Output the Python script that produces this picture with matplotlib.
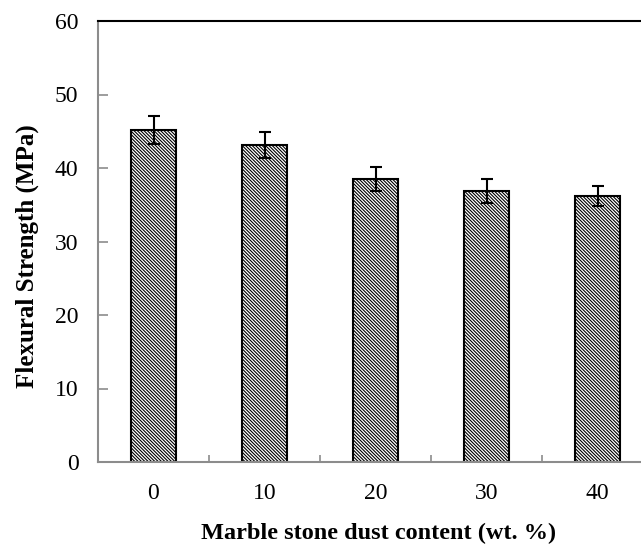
import numpy as np
import matplotlib
matplotlib.use("Agg")
import matplotlib.pyplot as plt

contents = ["0", "10", "20", "30", "40"]
strength = [45.2, 43.1, 38.5, 36.9, 36.2]
errors = [1.9, 1.8, 1.6, 1.6, 1.4]

plt.rcParams['font.family'] = ['Liberation Serif', 'DejaVu Serif']
plt.rcParams['hatch.linewidth'] = 0.8
plt.rcParams['hatch.color'] = '#3a3a3a'

fig = plt.figure(figsize=(6.41, 5.47), dpi=100)
# axes runs past the right edge of the figure like the original
ax = fig.add_axes([98/641, 1-462/547, 555/641, 441/547])

x = np.arange(len(contents))
ax.bar(x, strength, width=0.4, color='white', edgecolor='black', linewidth=1.5,
       hatch='\\' * 10, zorder=2)
ax.errorbar(x, strength, yerr=errors, fmt='none', ecolor='black', elinewidth=1.5,
            capsize=4.5, capthick=1.5, zorder=3)

ax.set_xlim(-0.5, 4.5)
ax.set_ylim(0, 60)
ax.set_yticks(range(0, 61, 10))
ax.set_xticks(x)
ax.set_xticklabels(contents)
ax.set_xticks(x[:-1] + 0.5, minor=True)

ax.spines['left'].set_color('#8c8c8c')
ax.spines['bottom'].set_color('#8c8c8c')
ax.spines['left'].set_linewidth(1.5)
ax.spines['bottom'].set_linewidth(1.5)
ax.spines['top'].set_linewidth(1.5)

ax.tick_params(axis='y', direction='in', length=7, width=1.2, color='#8c8c8c',
               labelsize=17, pad=14)
ax.tick_params(axis='x', which='major', length=0, labelsize=17, pad=15)
ax.tick_params(axis='x', which='minor', direction='in', length=5, width=1.2, color='#8c8c8c')

ax.set_ylabel("Flexural Strength (MPa)", fontsize=18, fontweight='bold')
ax.yaxis.set_label_coords(-0.106, 0.467)
ax.set_xlabel("Marble stone dust content (wt. %)", fontsize=17.5, fontweight='bold')
ax.xaxis.set_label_coords(0.506, -0.138)

fig.savefig("out.png", dpi=100)
